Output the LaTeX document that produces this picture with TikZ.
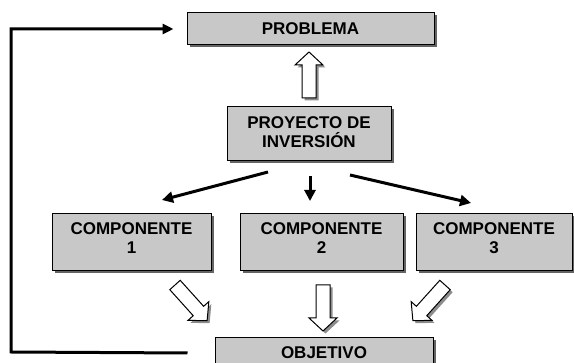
\documentclass[tikz,border=0pt]{standalone}
\usepackage{fontspec}
\setmainfont{Liberation Sans}
\usetikzlibrary{arrows.meta,shadows}
\definecolor{boxgray}{RGB}{200,200,200}
\definecolor{shadowgray}{RGB}{100,100,100}
\definecolor{arrshadow}{RGB}{140,140,140}
\newcommand\holarrow[3]{% tail point, canvas angle, length
  \begin{scope}[shift={#1}, xshift=2.5pt, yshift=-2.5pt, rotate=#2]
    \fill[arrshadow] (0,-7) -- ({#3-13},-7) -- ({#3-13},-14) -- (#3,0) -- ({#3-13},14) -- ({#3-13},7) -- (0,7) -- cycle;
  \end{scope}
  \begin{scope}[shift={#1}, rotate=#2]
    \draw[fill=white, line width=1pt, line join=miter] (0,-7) -- ({#3-13},-7) -- ({#3-13},-14) -- (#3,0) -- ({#3-13},14) -- ({#3-13},7) -- (0,7) -- cycle;
  \end{scope}}
\tikzset{
  box/.style={draw=black, fill=boxgray, line width=1pt, align=center, inner sep=0pt,
    font=\fontsize{17}{19}\selectfont\bfseries,
    drop shadow={shadow xshift=2.5pt, shadow yshift=-2.5pt, fill=shadowgray, opacity=1}},
  link/.style={line width=3pt, -{Triangle[length=11pt,width=11pt]}},
  fb/.style={line width=3pt, line join=miter, -{Triangle[length=11pt,width=10pt]}}
}
\begin{document}
\begin{tikzpicture}[x=1pt, y=-1pt]
  \useasboundingbox (0,0) rectangle (574,363);
  \clip (0,0) rectangle (574,363);
  \node[box, minimum width=247pt, minimum height=32pt] (prob) at (310.5,29) {PROBLEMA};
  \node[box, minimum width=164pt, minimum height=54pt] (proy) at (309,134) {PROYECTO DE\\INVERSIÓN\rule[-4pt]{0pt}{0pt}};
  \node[box, minimum width=159pt, minimum height=57pt] (c1) at (131.5,242.5) {COMPONENTE\\1\rule[-8pt]{0pt}{0pt}};
  \node[box, minimum width=163pt, minimum height=57pt] (c2) at (321.5,242.5) {COMPONENTE\\2\rule[-8pt]{0pt}{0pt}};
  \node[box, minimum width=156pt, minimum height=57pt] (c3) at (494,242.5) {COMPONENTE\\3\rule[-8pt]{0pt}{0pt}};
  \node[box, minimum width=218pt, minimum height=30pt] (obj) at (324,353) {OBJETIVO};

  \coordinate (a1s) at (268,172); \coordinate (a1e) at (162,200);
  \coordinate (a2s) at (310,176); \coordinate (a2e) at (310,201);
  \coordinate (a3s) at (350,175); \coordinate (a3e) at (471,203);
  \draw[link] (a1s) -- (a1e);
  \draw[link] (a2s) -- (a2e);
  \draw[link] (a3s) -- (a3e);

  \coordinate (corner) at (11,352);
  \draw[fb] ([xshift=-27pt]obj.west) -- (corner) |- ([xshift=-13pt]prob.west);

  \holarrow{(309,98)}{90}{46}
  \holarrow{(175,285)}{-48}{48}
  \holarrow{(323,285)}{-90}{46}
  \holarrow{(445,285)}{-132}{48}
\end{tikzpicture}
\end{document}
